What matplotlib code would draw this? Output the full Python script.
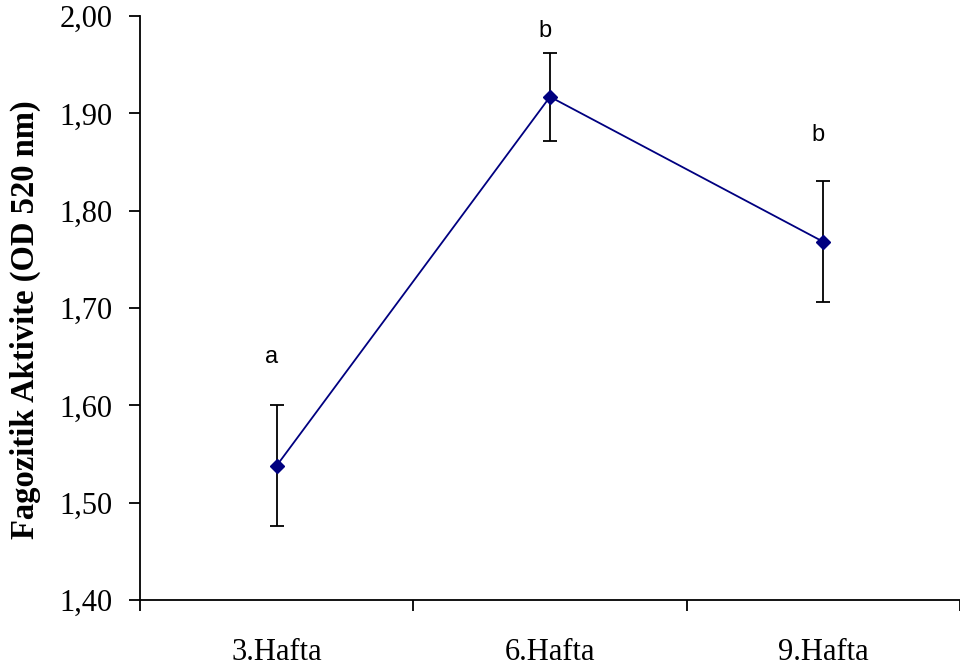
import matplotlib
matplotlib.use("Agg")
from matplotlib import pyplot as plt
from matplotlib.ticker import FixedLocator, NullFormatter, FixedFormatter

weeks = ["3.Hafta", "6.Hafta", "9.Hafta"]
activity = [1.538, 1.917, 1.768]
err = [0.062, 0.045, 0.062]
letters = ["a", "b", "b"]

yticks = [1.40, 1.50, 1.60, 1.70, 1.80, 1.90, 2.00]
ytick_labels = [("%.2f" % v).replace(".", ",") for v in yticks]

fig = plt.figure(figsize=(9.6, 6.7), dpi=100)
ax = fig.add_axes([140/960, 1 - 600/670, 820/960, 584/670])

xpos = [i + 0.5 for i in range(len(weeks))]

ax.errorbar(xpos, activity, yerr=err, fmt="none", ecolor="black",
            elinewidth=1.3, capsize=5, capthick=1.3, zorder=2)
ax.plot(xpos, activity, color="#000080", lw=1.3, marker="D", ms=7,
        markerfacecolor="#000080", markeredgecolor="#000080", zorder=3)

# letter gap above the upper cap
gaps = [0.038, 0.011, 0.036]
for x, y, e, g, t in zip(xpos, activity, err, gaps, letters):
    ax.text(x - 0.02, y + e + g, t, ha="center", va="bottom",
            family="Liberation Sans", fontsize=17)

ax.set_xlim(0, 3)
ax.set_ylim(1.40, 2.00)
ax.yaxis.set_major_locator(FixedLocator(yticks))
ax.yaxis.set_major_formatter(FixedFormatter(ytick_labels))
ax.xaxis.set_major_locator(FixedLocator([0, 1, 2, 3]))
ax.xaxis.set_major_formatter(NullFormatter())
ax.xaxis.set_minor_locator(FixedLocator(xpos))
ax.xaxis.set_minor_formatter(FixedFormatter(weeks))

for s in ["top", "right"]:
    ax.spines[s].set_visible(False)
for s in ["left", "bottom"]:
    ax.spines[s].set_linewidth(1.3)
ax.spines["bottom"].set_clip_on(False)

ax.tick_params(axis="y", which="major", direction="out", length=8, width=1.3,
               pad=12, labelsize=22, labelfontfamily="Liberation Serif")
ax.tick_params(axis="x", which="major", direction="out", length=8, width=1.3)
ax.tick_params(axis="x", which="minor", length=0, pad=27, labelsize=22,
               labelfontfamily="Liberation Serif")

ax.set_ylabel("Fagozitik Aktivite (OD 520 nm)", family="Liberation Serif",
              fontweight="bold", fontsize=23.5)
ax.yaxis.label.set_va("center")
ax.yaxis.set_label_coords((25 - 140) / 820, (600 - 320) / 584)

fig.savefig("out.png", dpi=100)
